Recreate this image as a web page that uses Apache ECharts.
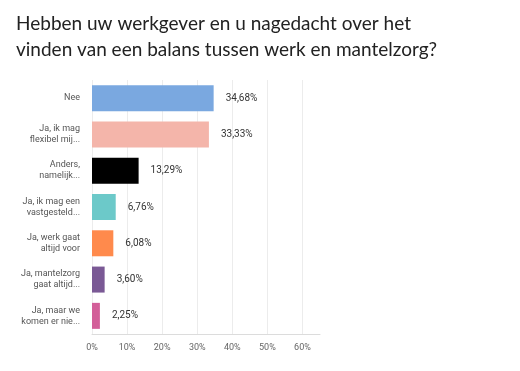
<!DOCTYPE html>
<html>
<head>
<meta charset="utf-8">
<script src="https://cdn.jsdelivr.net/npm/echarts@6/dist/echarts.min.js"></script>
<style>
html,body{margin:0;padding:0;background:#fff;}
#chart{width:520px;height:371px;}
</style>
</head>
<body>
<div id="chart"></div>
<script>
var titleLines = ['Hebben uw werkgever en u nagedacht over het', 'vinden van een balans tussen werk en mantelzorg?'];
var categories = ['Nee', 'Ja, ik mag\nflexibel mij...', 'Anders,\nnamelijk...', 'Ja, ik mag een\nvastgesteld...', 'Ja, werk gaat\naltijd voor', 'Ja, mantelzorg\ngaat altijd...', 'Ja, maar we\nkomen er nie...'];
var values = [34.68, 33.33, 13.29, 6.76, 6.08, 3.60, 2.25];
var colors = ['#7aa8e0', '#f4b5aa', '#000000', '#6cc9c9', '#ff8a4c', '#7a5995', '#d35f99'];

var chart = echarts.init(document.getElementById('chart'), null, {renderer: 'canvas'});
chart.setOption({
  animation: false,
  backgroundColor: '#fff',
  title: {
    text: titleLines.join('\n'),
    left: 11, top: 6,
    textStyle: {fontFamily: 'Lato', fontSize: 19, fontWeight: 'normal', color: '#222', lineHeight: 26}
  },
  grid: {left: 92, top: 80, width: 228, height: 254, containLabel: false},
  xAxis: {
    type: 'value', min: 0, max: 65, interval: 10,
    axisLine: {show: true, lineStyle: {color: '#dcdcdc'}},
    axisTick: {show: false},
    splitLine: {show: true, showMaxLine: false, lineStyle: {color: '#ececec'}},
    axisLabel: {showMaxLabel: false, formatter: '{value}%', color: '#666', fontFamily: 'Roboto', fontSize: 9, margin: 9}
  },
  yAxis: {
    type: 'category', inverse: true, data: categories,
    axisLine: {show: false}, axisTick: {show: false},
    axisLabel: {color: '#555', fontFamily: 'Roboto', fontSize: 9, lineHeight: 11, margin: 12, align: 'right'}
  },
  series: [{
    type: 'bar',
    data: values.map(function(v, i){ return {value: v, itemStyle: {color: colors[i]}}; }),
    barWidth: 26,
    label: {
      show: true, position: 'right', distance: 12,
      color: '#333', fontFamily: 'Roboto', fontSize: 10,
      formatter: function(p){ return p.value.toFixed(2).replace('.', ',') + '%'; }
    }
  }]
});
</script>
</body>
</html>
